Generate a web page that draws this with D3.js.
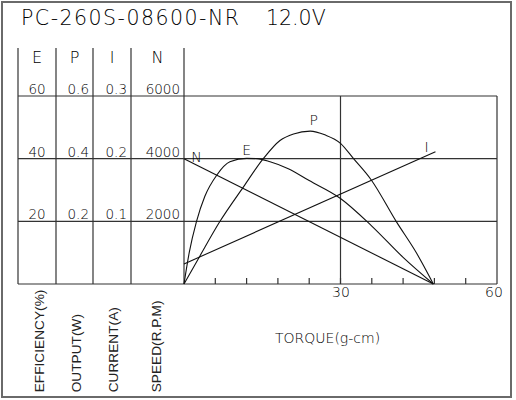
<!DOCTYPE html>
<html lang="en">
  <meta charset="utf-8">
  <title>PC-260S-08600-NR 12.0V</title>
  <style>
	body { margin: 0; background: #fff; }
	svg { display: block; }
	.cad { font-family: "DejaVu Sans", sans-serif; font-weight: 200; fill: #000; }
	.unit { font-family: "Liberation Sans", Arial, sans-serif; fill: #222; }
  </style>
  <body>
	<div id="chartDiv"></div>
	<script src="https://cdn.jsdelivr.net/npm/d3@7/dist/d3.min.js"></script>
	<script>
		// Curve readings off the motor sheet, torque in g-cm.
		var speedTorque = [0, 47.8];
		var speedValues = [4000, 0];
		var currentTorque = [0, 48.2];
		var currentValues = [0.032, 0.211];
		var outputTorque = [0, 3, 6.9, 11.4, 15.2, 18.4, 21, 24.2, 27, 30, 32.5, 35.9, 40.7, 44.6, 47.8];
		var outputValues = [0, 0.088, 0.2, 0.31, 0.4, 0.458, 0.479, 0.488, 0.476, 0.449, 0.4, 0.332, 0.199, 0.098, 0];
		var effTorque = [0, 1, 2.4, 4, 6.3, 8.8, 12, 14, 16.5, 20, 24, 30, 36, 42, 47.8];
		var effValues = [0, 10, 20, 28, 34.8, 39, 40.1, 40, 39, 36.8, 33, 27.3, 18.5, 8.5, 0];

		// Left hand scale columns.
		var columnNames = ["E", "P", "I", "N"];
		var columnUnits = ["EFFICIENCY(%)", "OUTPUT(W)", "CURRENT(A)", "SPEED(R.P.M)"];
		var columnMax = [60, 0.6, 0.3, 6000];
		var effTicks = [20, 40, 60];
		var outputTicks = [0.2, 0.4, 0.6];
		var currentTicks = [0.1, 0.2, 0.3];
		var speedTicks = [2000, 4000, 6000];
		var torqueTicks = [6, 12, 18, 24, 30, 36, 42, 48, 54];
		var torqueLabels = [30, 60];

		var W = 516, H = 400;
		var svg = d3.select("#chartDiv").append("svg").attr("width", W).attr("height", H);

		// Column edges, the last one is where the plot starts.
		var colEdges = [18, 56, 93, 131, 184];
		var unitX = [43.5, 80.5, 118, 160.5];
		var plotTop = 96, plotBottom = 284, plotRight = 497;

		var x = d3.scaleLinear().domain([0, 60]).range([colEdges[4], plotRight]);
		var yScales = columnMax.map(function (m) {
			return d3.scaleLinear().domain([0, m]).range([plotBottom, plotTop]);
		});
		var yEff = yScales[0], yOut = yScales[1], yCur = yScales[2], ySpd = yScales[3];
		var tickSets = [effTicks, outputTicks, currentTicks, speedTicks];
		var tickFormats = [d3.format("d"), d3.format(".1f"), d3.format(".1f"), d3.format("d")];

		var gridColor = "#333";

		// Outer frame.
		svg.append("rect").attr("x", 2).attr("y", 2).attr("width", 509).attr("height", 395)
			.attr("fill", "none").attr("stroke", "#6a6a6a").attr("stroke-width", 2);

		// Title.
		svg.append("text").attr("class", "cad").attr("x", 21).attr("y", 25)
			.attr("font-size", 20.5).attr("textLength", 218).attr("lengthAdjust", "spacing")
			.text("PC-260S-08600-NR");
		svg.append("text").attr("class", "cad").attr("x", 266).attr("y", 25)
			.attr("font-size", 20.5).text("12.0V");

		var grid = svg.append("g").attr("stroke", gridColor).attr("stroke-width", 1.2);

		// Column dividers.
		colEdges.forEach(function (cx) {
			grid.append("line").attr("x1", cx).attr("x2", cx).attr("y1", 48).attr("y2", plotBottom);
		});

		// Horizontal lines, shared by all columns and the plot.
		[0].concat(speedTicks).forEach(function (v) {
			grid.append("line").attr("x1", colEdges[0]).attr("x2", plotRight)
				.attr("y1", ySpd(v)).attr("y2", ySpd(v));
		});

		// Vertical lines at 30 and 60 g-cm.
		torqueLabels.forEach(function (t) {
			grid.append("line").attr("x1", x(t)).attr("x2", x(t)).attr("y1", plotTop).attr("y2", plotBottom);
		});

		// Small ticks along the torque axis.
		torqueTicks.forEach(function (t) {
			grid.append("line").attr("x1", x(t)).attr("x2", x(t)).attr("y1", plotBottom).attr("y2", plotBottom - 6);
		});

		// Column headers, tick labels and rotated unit labels.
		columnNames.forEach(function (name, i) {
			var centre = (colEdges[i] + colEdges[i + 1]) / 2;
			svg.append("text").attr("class", "cad").attr("x", centre).attr("y", 63.3)
				.attr("text-anchor", "middle").attr("font-size", 16).text(name);

			tickSets[i].forEach(function (v) {
				svg.append("text").attr("class", "cad")
					.attr("x", i == 0 ? centre : colEdges[i + 1] - 4)
					.attr("y", yScales[i](v) - 2)
					.attr("text-anchor", i == 0 ? "middle" : "end")
					.attr("font-size", 13.5).text(tickFormats[i](v));
			});

			svg.append("text").attr("class", "unit").attr("font-size", 13.7)
				.attr("transform", "translate(" + unitX[i] + ",392.3) rotate(-90)")
				.text(columnUnits[i]);
		});

		// Torque axis labels.
		torqueLabels.forEach(function (t, i) {
			svg.append("text").attr("class", "cad").attr("x", x(t)).attr("dx", i == 1 ? -3 : 0.5)
				.attr("y", 297).attr("text-anchor", "middle").attr("font-size", 14).text(t);
		});
		svg.append("text").attr("class", "cad").attr("x", 275).attr("y", 343)
			.attr("font-size", 14).text("TORQUE(g-cm)");

		// The four motor curves.
		function drawCurve(ts, vs, yScale) {
			var pts = d3.zip(ts, vs);
			var line = d3.line()
				.x(function (d) { return x(d[0]); })
				.y(function (d) { return yScale(d[1]); })
				.curve(d3.curveMonotoneX);
			svg.append("path").datum(pts).attr("d", line)
				.attr("fill", "none").attr("stroke", "#111").attr("stroke-width", 1.1);
		}
		drawCurve(speedTorque, speedValues, ySpd);
		drawCurve(currentTorque, currentValues, yCur);
		drawCurve(outputTorque, outputValues, yOut);
		drawCurve(effTorque, effValues, yEff);

		// Curve letters.
		svg.append("text").attr("class", "cad").attr("font-size", 14).attr("text-anchor", "middle")
			.attr("x", x(24.2) + 3.5).attr("y", yOut(d3.max(outputValues)) - 6).text("P");
		svg.append("text").attr("class", "cad").attr("font-size", 14).attr("text-anchor", "middle")
			.attr("x", x(12)).attr("y", yEff(d3.max(effValues)) - 3.5).text("E");
		svg.append("text").attr("class", "cad").attr("font-size", 14).attr("text-anchor", "middle")
			.attr("x", x(2.4)).attr("y", ySpd(speedValues[0]) + 3.5).text("N");
		svg.append("text").attr("class", "cad").attr("font-size", 14).attr("text-anchor", "middle")
			.attr("x", x(46.5)).attr("y", yCur(currentValues[1]) + 0.5).text("I");
	</script>
  </body>
</html>
